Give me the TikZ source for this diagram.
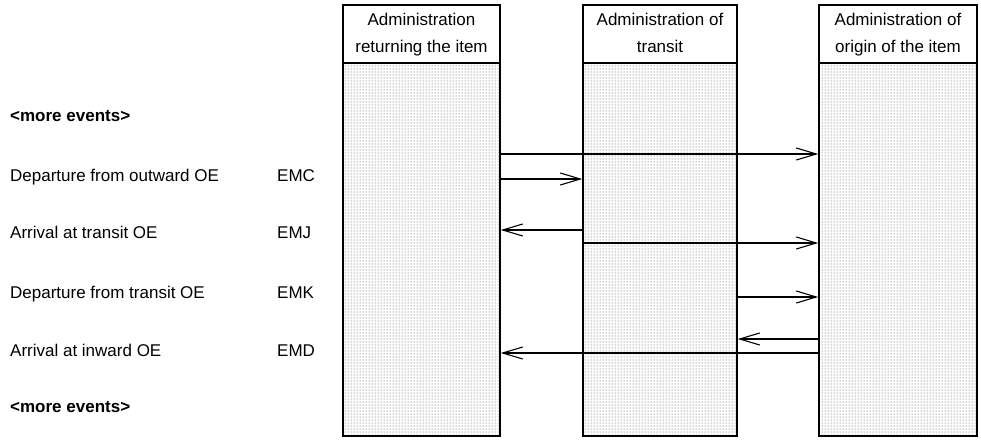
\documentclass[tikz,border=0pt]{standalone}
\usepackage{fontspec}
\setmainfont{Liberation Sans}
\usetikzlibrary{arrows.meta,patterns}
\begin{document}
\begin{tikzpicture}[x=1pt,y=-1pt,
  every node/.style={font=\fontsize{17}{27}\selectfont, inner sep=0pt},
  headbox/.style={draw, line width=1.6pt, minimum height=58pt, align=center},
  bodybox/.style={draw, line width=1.6pt, minimum height=373pt, pattern=dots, pattern color=black!75},
  msg/.style={line width=1.1pt, -{Straight Barb[length=20pt,width=12pt,line width=1.1pt]}},
  lbl/.style={anchor=base west},
  bold/.style={anchor=base west, font=\fontsize{17}{27}\selectfont\bfseries}]
\useasboundingbox (0,0) rectangle (981,444);
% columns
\node[bodybox, minimum width=157pt] (c1) at (421.5,249.5) {};
\node[bodybox, minimum width=154pt] (c2) at (660,249.5) {};
\node[bodybox, minimum width=158pt] (c3) at (898,249.5) {};
\node[headbox, minimum width=157pt] (h1) at (421.5,34) {\strut Administration\\\strut returning the item};
\node[headbox, minimum width=154pt] (h2) at (660,34) {\strut Administration of\\\strut transit};
\node[headbox, minimum width=158pt] (h3) at (898,34) {\strut Administration of\\\strut origin of the item};
% row coordinates
\coordinate (r1) at (0,154);
\coordinate (r2) at (0,179);
\coordinate (r3) at (0,230);
\coordinate (r4) at (0,243);
\coordinate (r5) at (0,297);
\coordinate (r6) at (0,339);
\coordinate (r7) at (0,353);
% messages
\draw[msg] (c1.east |- r1) -- (c3.west |- r1);
\draw[msg] (c1.east |- r2) -- (c2.west |- r2);
\draw[msg] (c2.west |- r3) -- (c1.east |- r3);
\draw[msg] (c2.west |- r4) -- (c3.west |- r4);
\draw[msg] (c2.east |- r5) -- (c3.west |- r5);
\draw[msg] (c3.west |- r6) -- (c2.east |- r6);
\draw[msg] (c3.west |- r7) -- (c1.east |- r7);
% labels
\node[bold] (m1) at (10,121) {<more events>};
\node[lbl] (e1) at (10,181) {Departure from outward OE};
\node[lbl] (k1) at (277,181) {EMC};
\node[lbl] (e2) at (10,238) {Arrival at transit OE};
\node[lbl] (k2) at (277,238) {EMJ};
\node[lbl] (e3) at (10,298) {Departure from transit OE};
\node[lbl] (k3) at (277,298) {EMK};
\node[lbl] (e4) at (10,356) {Arrival at inward OE};
\node[lbl] (k4) at (277,356) {EMD};
\node[bold] (m2) at (10,412) {<more events>};
\end{tikzpicture}
\end{document}
